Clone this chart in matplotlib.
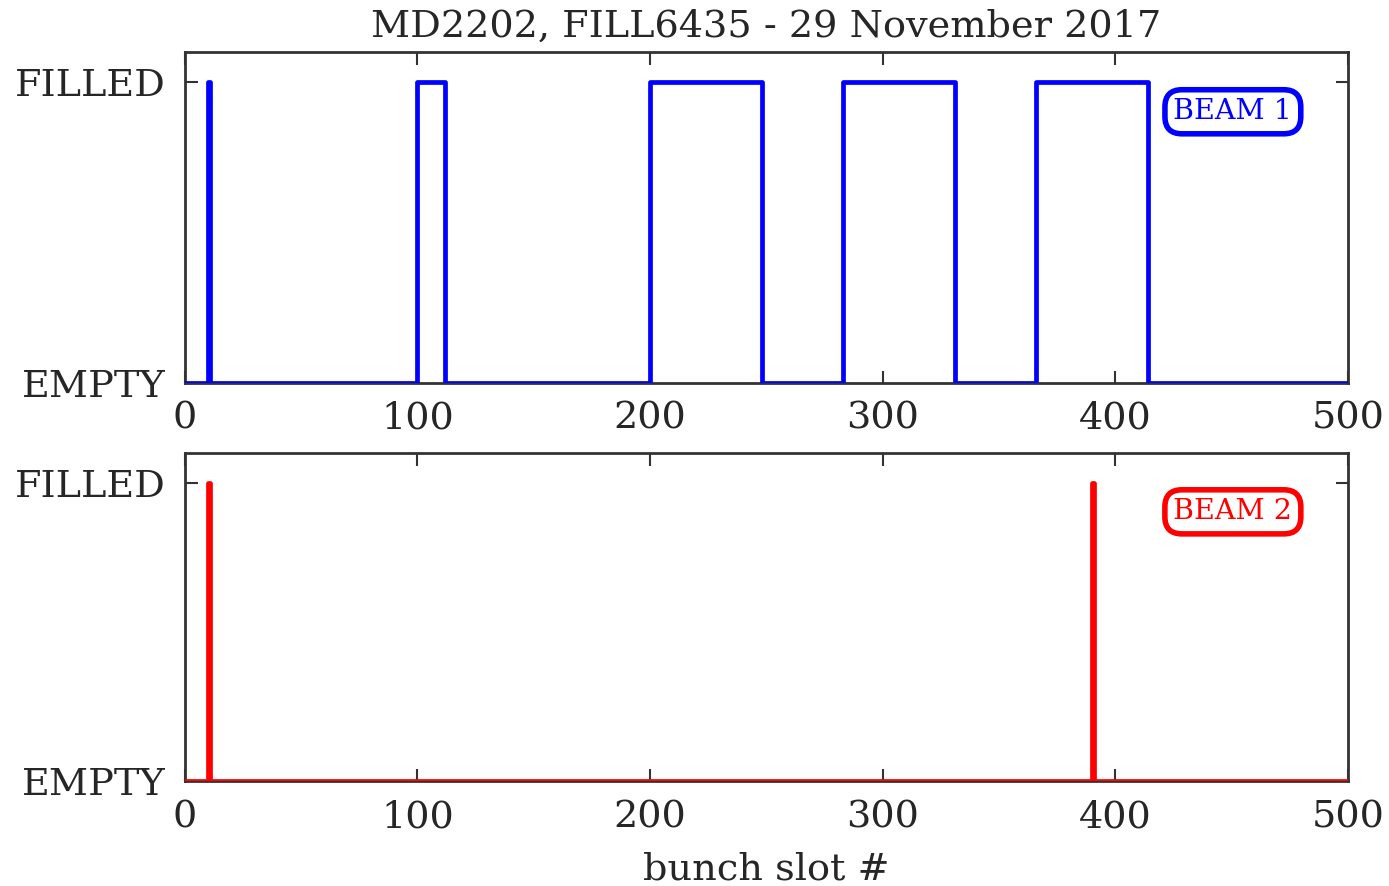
import numpy as np
import matplotlib
matplotlib.use("Agg")
import matplotlib.pyplot as plt

# Filling scheme: train start slot and number of bunches
beam1_starts = [10, 100, 200, 283, 366]
beam1_lengths = [1, 12, 48, 48, 48]
beam2_starts = [10, 390]
beam2_lengths = [1, 1]

n_slots = 500
title = "MD2202, FILL6435 - 29 November 2017"


def filling(starts, lengths):
    f = np.zeros(n_slots + 1)
    for s, n in zip(starts, lengths):
        f[s:s + n] = 1
    return f


plt.rcParams["font.family"] = "DejaVu Serif"
plt.rcParams["text.color"] = "#262626"
plt.rcParams["xtick.color"] = "#262626"
plt.rcParams["ytick.color"] = "#262626"
plt.rcParams["axes.labelcolor"] = "#262626"

fig = plt.figure(figsize=(13.89, 8.86), dpi=100)
ax1 = fig.add_axes([0.133, 0.568, 0.8375, 0.373])
ax2 = fig.add_axes([0.133, 0.1185, 0.8375, 0.3705])

slots = np.arange(n_slots + 1)
beams = [(ax1, filling(beam1_starts, beam1_lengths), "blue", "BEAM 1"),
         (ax2, filling(beam2_starts, beam2_lengths), "red", "BEAM 2")]

for ax, f, col, lab in beams:
    ax.plot(slots, f, drawstyle="steps-post", color=col, lw=3.4,
            solid_joinstyle="round", zorder=3)
    ax.set_xlim(0, n_slots)
    ax.set_ylim(0, 1.1)
    ax.set_yticks([0, 1])
    ax.set_yticklabels(["EMPTY", "FILLED"])
    ax.set_xticks(np.arange(0, 501, 100))
    ax.tick_params(direction="in", top=True, right=True, length=9,
                   width=1.5, labelsize=27.5, color="#333333")
    ax.tick_params(axis="y", pad=14)
    ax.tick_params(axis="x", pad=13)
    for sp in ax.spines.values():
        sp.set_linewidth(2)
        sp.set_color("#333333")
    ax.text(0.901, 0.82, lab, transform=ax.transAxes, color=col,
            fontsize=20.5, ha="center", va="center",
            bbox=dict(boxstyle="round,pad=0.3,rounding_size=0.6", fc="white",
                      ec=col, lw=4))

ax1.set_title(title, fontsize=27.5, pad=11)
ax2.set_xlabel("bunch slot #", fontsize=27.5, labelpad=12)

fig.savefig("out.png", dpi=100)
